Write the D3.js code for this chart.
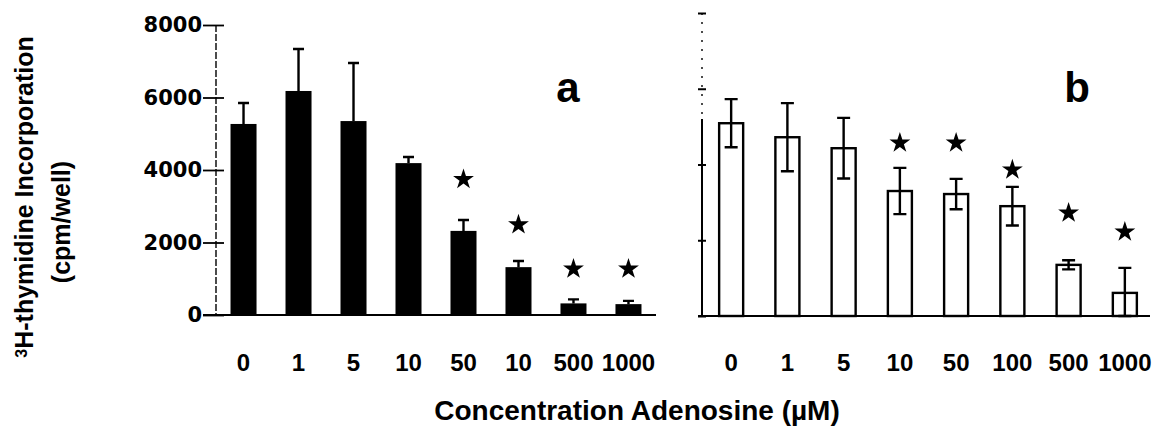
<!DOCTYPE html>
<html>
<head>
<meta charset="utf-8">
<script src="https://cdnjs.cloudflare.com/ajax/libs/d3/7.8.5/d3.min.js"></script>
<style>
  body { margin: 0; background: #fff; }
  text { font-family: "Liberation Sans", Arial, sans-serif; font-weight: bold; fill: #000; }
</style>
</head>
<body>
<div id="chart"></div>
<script>
// concentrations (the second "10" in panel a is as printed)
const labelsA = ["0", "1", "5", "10", "50", "10", "500", "1000"];
const labelsB = ["0", "1", "5", "10", "50", "100", "500", "1000"];

// panel a: mean and SEM (cpm/well)
const meanA = [5270, 6180, 5350, 4190, 2320, 1320, 320, 300];
const semA  = [580, 1160, 1600, 170, 300, 170, 110, 90];
const starA = [null, null, null, null, 3740, 2490, 1270, 1270];

// panel b
const meanB = [5090, 4720, 4430, 3300, 3220, 2900, 1350, 610];
const semB  = [635, 900, 800, 610, 400, 510, 120, 660];
const starB = [null, null, null, 4570, 4570, 3860, 2720, 2220];

const yTicks = [0, 2000, 4000, 6000, 8000];

const W = 1170, H = 429;
const svg = d3.select("#chart").append("svg").attr("width", W).attr("height", H);

let xA = d3.scaleBand().domain(d3.range(labelsA.length)).range([216, 656]).paddingInner(0.527).paddingOuter(0.264);
let yA = d3.scaleLinear().domain([0, 8000]).range([315, 25]);
let xB = d3.scaleBand().domain(d3.range(labelsB.length)).range([703, 1153]).paddingInner(0.573).paddingOuter(0.287);
let yB = d3.scaleLinear().domain([0, 8000]).range([316, 13]);

// ---- panel a axis
let axA = svg.append("g").attr("transform", "translate(216,0)")
  .call(d3.axisLeft(yA).tickValues(yTicks).tickSize(13).tickPadding(1).tickFormat(d3.format("d")));
axA.select(".domain").remove();
axA.selectAll(".tick line").attr("x1", 8).attr("stroke-width", 1.8);
axA.selectAll(".tick text")
  .attr("font-family", "'DejaVu Sans', sans-serif")
  .attr("font-size", 21)
  .style("font-family", "'DejaVu Sans', sans-serif")
  .style("font-size", "21px").style("font-weight", "bold");
svg.append("line").attr("x1", 216).attr("x2", 216).attr("y1", yA(8000)).attr("y2", yA(0))
  .attr("stroke", "#000").attr("stroke-width", 1.4).attr("stroke-dasharray", "7,2");
svg.append("line").attr("x1", 203).attr("x2", 656).attr("y1", yA(0)).attr("y2", yA(0))
  .attr("stroke", "#000").attr("stroke-width", 2.2);

// ---- panel b axis (no labels)
let axB = svg.append("g").attr("transform", "translate(702,0)")
  .call(d3.axisLeft(yB).tickValues(yTicks).tickSize(4).tickFormat(""));
axB.select(".domain").remove();
axB.selectAll(".tick line").attr("x1", 4).attr("stroke-width", 2);
svg.append("line").attr("x1", 702).attr("x2", 702).attr("y1", yB(8000)).attr("y2", yB(5200))
  .attr("stroke", "#000").attr("stroke-width", 1.4).attr("stroke-dasharray", "2,7");
svg.append("line").attr("x1", 702).attr("x2", 702).attr("y1", yB(5200)).attr("y2", yB(0))
  .attr("stroke", "#000").attr("stroke-width", 2);
svg.append("line").attr("x1", 698).attr("x2", 1150).attr("y1", yB(0)).attr("y2", yB(0))
  .attr("stroke", "#000").attr("stroke-width", 2.2);

// ---- bars a (filled)
let gA = svg.append("g");
gA.selectAll("rect").data(meanA).enter().append("rect")
  .attr("x", (d, i) => xA(i)).attr("width", xA.bandwidth())
  .attr("y", d => yA(d)).attr("height", d => yA(0) - yA(d))
  .attr("fill", "#000");
// upward error bars
gA.selectAll(".err").data(meanA).enter().append("path")
  .attr("class", "err")
  .attr("d", (d, i) => {
    let cx = xA(i) + xA.bandwidth() / 2, top = yA(d + semA[i]);
    return `M${cx},${yA(d)}V${top}M${cx - 5.5},${top}H${cx + 5.5}`;
  })
  .attr("stroke", "#000").attr("stroke-width", 2.4).attr("fill", "none");

// ---- bars b (open)
let gB = svg.append("g");
gB.selectAll("rect").data(meanB).enter().append("rect")
  .attr("x", (d, i) => xB(i)).attr("width", xB.bandwidth())
  .attr("y", d => yB(d)).attr("height", d => yB(0) - yB(d))
  .attr("fill", "#fff").attr("stroke", "#000").attr("stroke-width", 2.4);
gB.selectAll(".err").data(meanB).enter().append("path")
  .attr("class", "err")
  .attr("d", (d, i) => {
    let cx = xB(i) + xB.bandwidth() / 2;
    let top = yB(d + semB[i]), bot = yB(Math.max(0, d - semB[i]));
    return `M${cx},${top}V${bot}M${cx - 6.5},${top}H${cx + 6.5}M${cx - 6.5},${bot}H${cx + 6.5}`;
  })
  .attr("stroke", "#000").attr("stroke-width", 2.4).attr("fill", "none");

// ---- significance stars
let star = d3.symbol().type(d3.symbolStar).size(135);
svg.append("g").selectAll("path").data(starA.map((s, i) => ({s, i})).filter(d => d.s != null))
  .enter().append("path")
  .attr("d", star)
  .attr("transform", d => `translate(${xA(d.i) + xA.bandwidth() / 2},${yA(d.s)})`)
  .attr("fill", "#000");
svg.append("g").selectAll("path").data(starB.map((s, i) => ({s, i})).filter(d => d.s != null))
  .enter().append("path")
  .attr("d", star)
  .attr("transform", d => `translate(${xB(d.i) + xB.bandwidth() / 2},${yB(d.s)})`)
  .attr("fill", "#000");

// ---- x tick labels
function xLabels(scale, labels) {
  let g = svg.append("g").attr("transform", "translate(0,315)")
    .call(d3.axisBottom(scale).tickSize(0).tickPadding(39).tickFormat(i => labels[i]));
  g.select(".domain").remove();
  g.selectAll(".tick text").style("font-size", "24px")
    .style("font-family", "'Liberation Sans', Arial, sans-serif").style("font-weight", "bold");
}
xLabels(xA, labelsA);
xLabels(xB, labelsB);

// ---- panel letters
svg.append("text").attr("x", 568).attr("y", 102).attr("text-anchor", "middle")
  .style("font-size", "42px").text("a");
svg.append("text").attr("x", 1077).attr("y", 102).attr("text-anchor", "middle")
  .style("font-size", "42px").text("b");

// ---- axis titles
svg.append("text").attr("x", 637).attr("y", 420).attr("text-anchor", "middle")
  .style("font-size", "28px").text("Concentration Adenosine (\u00b5M)");

let yt = svg.append("text").attr("transform", "translate(33,197) rotate(-90)")
  .attr("text-anchor", "middle").style("font-size", "25px");
yt.append("tspan").style("font-size", "16px").attr("dy", "-0.35em").text("3");
yt.append("tspan").attr("dy", "0.22em").text("H-thymidine Incorporation");
svg.append("text").attr("transform", "translate(70,222) rotate(-90)")
  .attr("text-anchor", "middle").style("font-size", "25px").text("(cpm/well)");
</script>
</body>
</html>
